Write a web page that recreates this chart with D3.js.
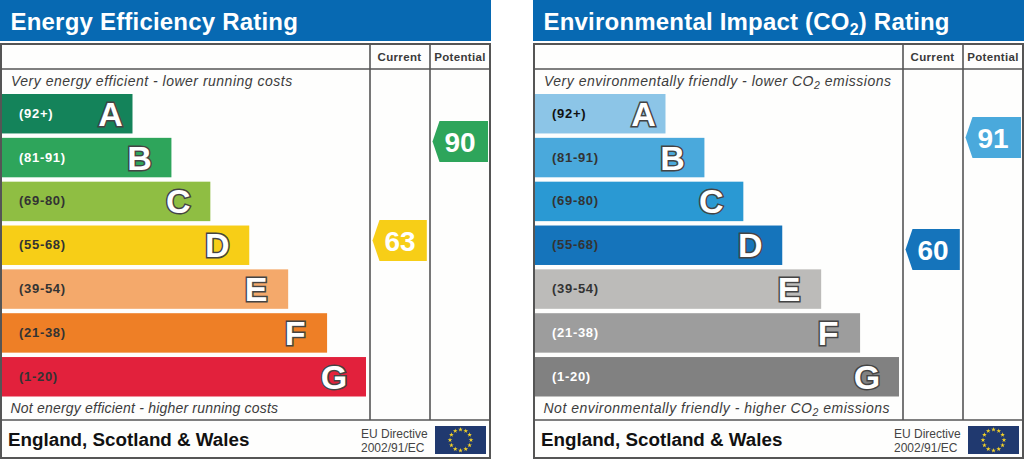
<!DOCTYPE html>
<html>
<head>
<meta charset="utf-8">
<script src="https://cdn.jsdelivr.net/npm/d3@7"></script>
<style>
  html, body { margin: 0; padding: 0; background: #fff; }
  text { font-family: "Liberation Sans", Arial, sans-serif; }
</style>
</head>
<body>
<svg id="chart" width="1024" height="460"></svg>
<script>
const bands = ["A", "B", "C", "D", "E", "F", "G"];
const ranges = ["(92+)", "(81-91)", "(69-80)", "(55-68)", "(39-54)", "(21-38)", "(1-20)"];
const steps = [1, 2, 3, 4, 5, 6, 7];
const lows = [92, 81, 69, 55, 39, 21, 1];

const energyColors = ["#14835a", "#2ea55b", "#8fbe43", "#f7ce17", "#f4a96b", "#ee7f26", "#e2213c"];
const energyLabelColors = ["#fff", "#fff", "#333", "#333", "#333", "#333", "#333"];
const co2Colors = ["#8cc5e7", "#4aa9dc", "#2a99d3", "#1574bb", "#bcbbb9", "#9d9d9d", "#818181"];
const co2LabelColors = ["#111", "#333", "#333", "#333", "#333", "#fff", "#fff"];

const energyScores = [63, 90];
const co2Scores = [60, 91];

const svg = d3.select("#chart");

const bandY = d3.scaleBand().domain(bands).range([94, 396.5]).paddingInner(0.1).paddingOuter(0).align(0);
const barRight = d3.scaleLinear().domain([1, 7]).range([132.5, 366]);
const scoreY = d3.scaleLinear().domain([91, 90, 63, 60]).range([137.5, 141.5, 240.5, 249.5]);
const columnX = d3.scaleOrdinal().domain(["Current", "Potential"]).range([370, 430]);

function drawPanel(offset, p) {
  const g = svg.append("g").attr("transform", "translate(" + offset + ",0)");

  g.append("rect").attr("x", 0).attr("y", 0).attr("width", 491).attr("height", 41).attr("fill", "#0769b2");
  const title = g.append("text").attr("x", 10.5).attr("y", 30)
    .attr("fill", "#fff").attr("font-size", 24).attr("font-weight", "bold").attr("letter-spacing", p.titleSpacing);
  p.title.forEach(t => {
    title.append("tspan").text(t.s).attr("font-size", t.sub ? 16 : 24).attr("dy", t.sub ? 5 : t.up ? -5 : 0);
  });

  // frame and rules
  g.append("rect").attr("x", 1).attr("y", 44).attr("width", 489).attr("height", 414)
    .attr("fill", "#fefefd").attr("stroke", "#555").attr("stroke-width", 2);
  const rules = [[1, 69, 490, 69], [1, 420, 490, 420], [370, 44, 370, 420], [430, 44, 430, 420]];
  g.selectAll("line.rule").data(rules).enter().append("line").attr("class", "rule")
    .attr("x1", d => d[0]).attr("y1", d => d[1]).attr("x2", d => d[2]).attr("y2", d => d[3])
    .attr("stroke", "#555").attr("stroke-width", 1.6);

  g.selectAll("text.col").data(columnX.domain()).enter().append("text").attr("class", "col")
    .attr("x", d => columnX(d) + (d == "Current" ? 29.5 : 30)).attr("y", 61)
    .attr("text-anchor", "middle").attr("font-size", 11.5).attr("font-weight", "bold")
    .attr("letter-spacing", 0.35).attr("fill", "#3a3a3a").text(d => d);

  italic(g, p.top, 11, 86, p.topSpacing);
  italic(g, p.bottom, 10.5, 413, p.bottomSpacing);

  // bars
  const bar = g.selectAll("g.bar").data(bands).enter().append("g").attr("class", "bar");
  bar.append("rect").attr("x", 2).attr("y", d => bandY(d))
    .attr("width", (d, i) => barRight(steps[i]) - 2).attr("height", bandY.bandwidth())
    .attr("fill", (d, i) => p.colors[i]);
  bar.append("text").attr("x", 19).attr("y", d => bandY(d) + bandY.bandwidth() / 2 + 4)
    .attr("font-size", 13).attr("letter-spacing", 0.7).attr("font-weight", "bold")
    .attr("fill", (d, i) => p.labelColors[i]).text((d, i) => ranges[i]);
  bar.append("text").attr("x", (d, i) => barRight(steps[i]) - (d == "A" ? 22 : 32))
    .attr("y", d => bandY(d) + bandY.bandwidth() / 2 + 12)
    .attr("text-anchor", "middle").attr("font-size", 34).attr("font-weight", "bold")
    .attr("fill", "#fff").attr("stroke", "#444").attr("stroke-width", 3)
    .attr("paint-order", "stroke").text(d => d);

  // score pointers
  const pointer = g.selectAll("g.pointer").data(columnX.domain()).enter().append("g").attr("class", "pointer")
    .attr("transform", (d, i) => "translate(" + columnX(d) + "," + scoreY(p.scores[i]) + ")");
  pointer.append("path").attr("d", d => "M2.5,0L9.5,-20.5H" + (d == "Current" ? 56.8 : 58) + "V20.5H9.5Z")
    .attr("fill", (d, i) => p.colors[bandIndex(p.scores[i])]);
  pointer.append("text").attr("x", 30).attr("y", 10.5).attr("text-anchor", "middle")
    .attr("font-size", 28).attr("font-weight", "bold").attr("fill", "#fff")
    .text((d, i) => p.scores[i]);

  // footer
  g.append("text").attr("x", 8).attr("y", 446).attr("font-size", 18.8).attr("font-weight", "bold")
    .attr("fill", "#111").text("England, Scotland & Wales");
  g.append("text").attr("x", 361).attr("y", 438).attr("font-size", 12).attr("fill", "#444").text("EU Directive");
  g.append("text").attr("x", 361).attr("y", 452).attr("font-size", 12).attr("fill", "#444").text("2002/91/EC");

  g.append("rect").attr("x", 435).attr("y", 426).attr("width", 51).attr("height", 28).attr("fill", "#20396f");
  const ring = d3.range(12).map(i => i * Math.PI / 6);
  g.selectAll("path.star").data(ring).enter().append("path").attr("class", "star")
    .attr("d", d3.symbol(d3.symbolStar, 7))
    .attr("transform", a => "translate(" + (460.5 + 10.5 * Math.sin(a)) + "," + (440 - 10.5 * Math.cos(a)) + ")")
    .attr("fill", "#f5d327");
}

function italic(g, parts, x, y, spacing) {
  const t = g.append("text").attr("x", x).attr("y", y).attr("font-size", 14).attr("font-style", "italic")
    .attr("letter-spacing", spacing).attr("fill", "#3c3c3c");
  parts.forEach((s, i) => {
    if (s == "2") t.append("tspan").attr("dy", 3).attr("font-size", 10.5).text(s);
    else t.append("tspan").attr("dy", i > 0 ? -3 : 0).text(s);
  });
}

function bandIndex(score) {
  return lows.findIndex(l => score >= l);
}

drawPanel(0, {
  title: [{ s: "Energy Efficiency Rating" }],
  titleSpacing: 0.2,
  top: ["Very energy efficient - lower running costs"],
  bottom: ["Not energy efficient - higher running costs"],
  topSpacing: 0.5, bottomSpacing: 0.2,
  colors: energyColors, labelColors: energyLabelColors, scores: energyScores
});
drawPanel(533, {
  title: [{ s: "Environmental Impact (CO" }, { s: "2", sub: true }, { s: ") Rating", up: true }],
  titleSpacing: 0.2,
  top: ["Very environmentally friendly - lower CO", "2", " emissions"],
  bottom: ["Not environmentally friendly - higher CO", "2", " emissions"],
  topSpacing: 0.5, bottomSpacing: 0.5,
  colors: co2Colors, labelColors: co2LabelColors, scores: co2Scores
});
</script>
</body>
</html>
